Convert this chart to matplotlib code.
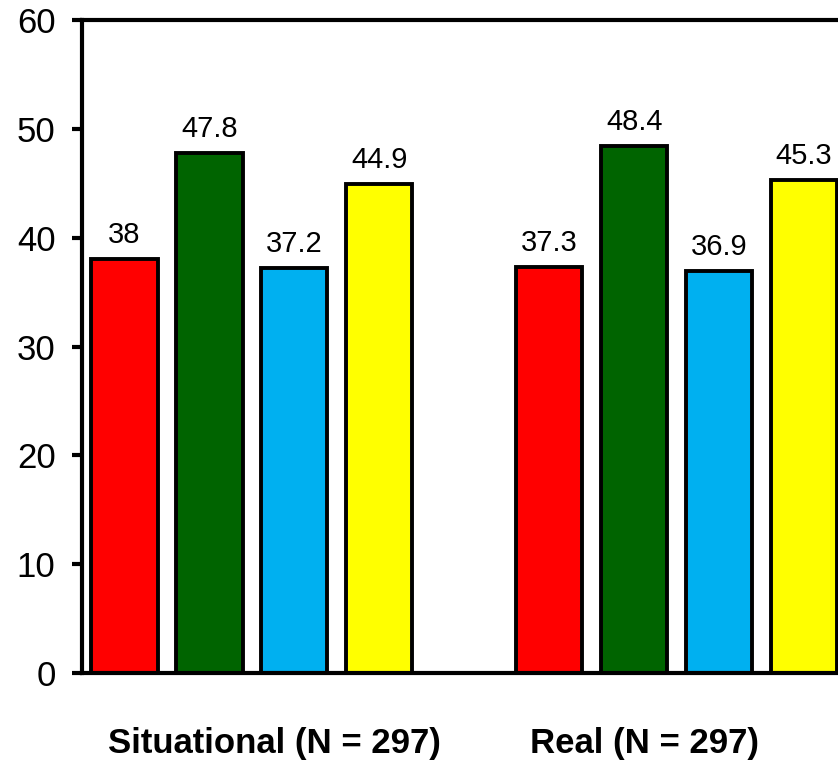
import matplotlib
matplotlib.use("Agg")
import matplotlib.pyplot as plt

plt.rcParams["font.family"] = ["Liberation Sans", "DejaVu Sans"]

# data
groups = ["Situational (N = 297)", "Real (N = 297)"]
situational = [38, 47.8, 37.2, 44.9]
real = [37.3, 48.4, 36.9, 45.3]
colors = ["#FF0000", "#006400", "#00B0F0", "#FFFF00"]
yticks = [0, 10, 20, 30, 40, 50, 60]

# bar slots: 4 per group, one empty slot between groups
x_sit = [0, 1, 2, 3]
x_real = [5, 6, 7, 8]
label_pos = [1.77, 6.12]

fig = plt.figure(figsize=(8.38, 7.6), dpi=100)
ax = fig.add_axes([82 / 838, 87 / 760, 1 - 82 / 838, 653 / 760])

for xs, vals in [(x_sit, situational), (x_real, real)]:
    ax.bar(xs, vals, width=0.78, color=colors, edgecolor="black",
           linewidth=2.8, zorder=2, clip_on=True)
    for x, v in zip(xs, vals):
        ax.annotate(f"{v:g}", xy=(x, v), xytext=(0, 11.5),
                    textcoords="offset points", ha="center", va="baseline",
                    fontsize=21, annotation_clip=False)

ax.set_xlim(-0.5, 8.4)
ax.set_ylim(0, 60)
ax.set_yticks(yticks)
ax.set_xticks([])
ax.tick_params(axis="y", direction="out", length=7, width=3,
               labelsize=25, pad=12)

for side in ["left", "top", "bottom"]:
    ax.spines[side].set_linewidth(3)
ax.spines["right"].set_visible(False)

for pos, name in zip(label_pos, groups):
    ax.annotate(name, xy=(pos, 0), xycoords=("data", "axes fraction"),
                xytext=(0, -57.5), textcoords="offset points",
                ha="center", va="baseline", fontsize=25, fontweight="bold",
                annotation_clip=False)

fig.savefig("out.png", dpi=100)
